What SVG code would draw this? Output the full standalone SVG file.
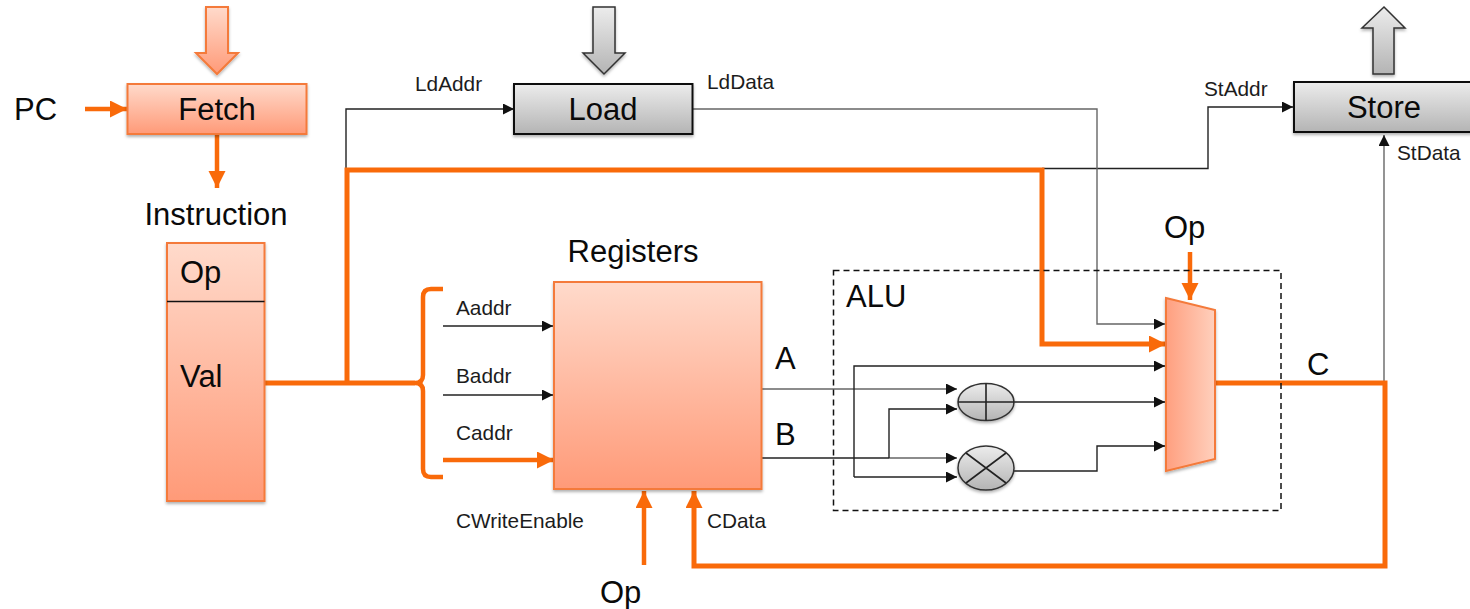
<svg xmlns="http://www.w3.org/2000/svg" width="1470" height="609" viewBox="0 0 1470 609">
<style>
text{font-family:"Liberation Sans",Arial,sans-serif;fill:#0a0a0a}
.l{font-size:31px}.s{font-size:20.8px;fill:#1c1c1c}
.m{text-anchor:middle}
.or{fill:url(#og);stroke:#f47a3a;stroke-width:2}
.gr{fill:url(#gg);stroke:#111;stroke-width:2}
.gs{fill:url(#gg);stroke:#333;stroke-width:1.5}
.thin{fill:none;stroke:#222;stroke-width:1.4}
.fine{fill:none;stroke:#666;stroke-width:1.4}
.thick{fill:none;stroke:#f96a0a;stroke-width:5}
.med{fill:none;stroke:#f96a0a;stroke-width:4.5}
.sym{stroke:#222;stroke-width:1.6;fill:none}
</style>
<defs>
<linearGradient id="og" x1="0" y1="0" x2="0" y2="1"><stop offset="0" stop-color="#ffdacb"/><stop offset="1" stop-color="#ff9a78"/></linearGradient>
<linearGradient id="mux" x1="0" y1="0" x2="1" y2="0"><stop offset="0" stop-color="#ff9f7f"/><stop offset="1" stop-color="#ffd0bd"/></linearGradient>
<linearGradient id="gg" x1="0" y1="0" x2="0" y2="1"><stop offset="0" stop-color="#ececec"/><stop offset="1" stop-color="#b4b4b4"/></linearGradient>
<filter id="sh" x="-10%" y="-10%" width="120%" height="125%"><feDropShadow dx="0" dy="2" stdDeviation="1.6" flood-color="#000" flood-opacity=".3"/></filter>
<marker id="a" markerUnits="userSpaceOnUse" markerWidth="12" markerHeight="12" refX="11" refY="5.5" orient="auto"><path d="M0 0L11 5.500L0 11z" fill="#111"/></marker>
<marker id="o" markerUnits="userSpaceOnUse" markerWidth="18" markerHeight="18" refX="17" refY="8.500" orient="auto"><path d="M0 0L17 8.500L0 17z" fill="#f96a0a"/></marker>
</defs>
<g id="connectors">
<path class="thin" d="M346 168V109H514" marker-end="url(#a)"/>
<path class="thin" d="M1042 168.500H1208V107H1293" marker-end="url(#a)"/>
<path class="fine" d="M692 109H1097V324H1165" marker-end="url(#a)"/>
<path class="fine" d="M1384 383V135" marker-end="url(#a)"/>
<path class="thin" d="M443 326H553" marker-end="url(#a)"/>
<path class="thin" d="M443 395H553" marker-end="url(#a)"/>
<path class="fine" d="M761 389H957" marker-end="url(#a)"/>
<path class="thin" d="M761 458H889"/>
<path class="fine" d="M889 458H957" marker-end="url(#a)"/>
<path class="thin" d="M889 458V409H957" marker-end="url(#a)"/>
<path class="thin" d="M854 477V366H1165" marker-end="url(#a)"/>
<path class="thin" d="M854 477H957" marker-end="url(#a)"/>
<path class="thin" d="M1014 402H1165" marker-end="url(#a)"/>
<path class="thin" d="M1014 471H1097V446H1165" marker-end="url(#a)"/>
<path class="med" d="M85 109H127" marker-end="url(#o)"/>
<path class="med" d="M217 134V188" marker-end="url(#o)"/>
<path class="thick" d="M264 383H415"/>
<path class="thick" d="M347 383V170H1042V344H1166" marker-end="url(#o)"/>
<path class="med" d="M443 289H431Q423 289 423 297V375Q423 383 415 383Q423 383 423 391V469Q423 477 431 477H443"/>
<path class="med" d="M443 460H554" marker-end="url(#o)"/>
<path class="med" d="M644 565V491" marker-end="url(#o)"/>
<path class="thick" d="M1215 383H1385V566H694V491" marker-end="url(#o)"/>
<path class="med" d="M1190 252V300" marker-end="url(#o)"/>
</g>
<g id="alu"><rect x="833.500" y="270.500" width="447.500" height="240" fill="none" stroke="#111" stroke-width="1.500" stroke-dasharray="6 4"/><text class="l" x="846" y="307">ALU</text></g>
<g id="fetch-in"><path class="or" filter="url(#sh)" d="M206 7H228V53H238L217 74L196 53H206z"/></g>
<g id="fetch"><rect class="or" filter="url(#sh)" x="127.500" y="84" width="179" height="50"/><text class="l m" x="217" y="120">Fetch</text></g>
<g id="pc"><text class="l" x="14" y="120">PC</text></g>
<g id="instruction-label"><text class="l m" x="216" y="225">Instruction</text></g>
<g id="instruction"><rect x="167" y="243" width="97.500" height="258" fill="url(#og)" stroke="#f47a3a" stroke-width="2" filter="url(#sh)"/><path d="M167 301.500H264.500" stroke="#111" stroke-width="1.500"/><text class="l" x="180" y="283">Op</text><text class="l" x="180" y="387">Val</text></g>
<g id="load-in"><path class="gs" filter="url(#sh)" d="M593 7H615V53H625L604 74L583 53H593z"/></g>
<g id="load"><rect class="gr" filter="url(#sh)" x="514" y="84" width="178.500" height="50"/><text class="l m" x="603" y="120">Load</text></g>
<g id="store-out"><path class="gs" filter="url(#sh)" d="M1384 7L1405 28H1394V74H1373V28H1362z"/></g>
<g id="store"><rect class="gr" filter="url(#sh)" x="1294" y="82" width="180" height="50"/><text class="l m" x="1384" y="118">Store</text></g>
<g id="registers"><rect class="or" filter="url(#sh)" x="554" y="282" width="207.500" height="207"/><text class="l m" x="633" y="262">Registers</text></g>
<g id="adder"><ellipse class="gs" filter="url(#sh)" cx="986" cy="402" rx="28" ry="18.500"/><path class="sym" d="M958 402H1014M986 383.500V420.500"/></g>
<g id="multiplier"><ellipse class="gs" filter="url(#sh)" cx="986" cy="468" rx="28" ry="22"/><path class="sym" d="M966 453L1006 483M1006 453L966 483"/></g>
<g id="mux-block"><path fill="url(#mux)" stroke="#f47a3a" stroke-width="2" filter="url(#sh)" d="M1166 298L1215 310V459L1166 471z"/></g>
<g id="labels">
<text class="s" x="415" y="91">LdAddr</text>
<text class="s" x="707" y="89">LdData</text>
<text class="s" x="1204" y="96">StAddr</text>
<text class="s" x="1397" y="160">StData</text>
<text class="s" x="456" y="315">Aaddr</text>
<text class="s" x="456" y="383">Baddr</text>
<text class="s" x="456" y="440">Caddr</text>
<text class="s" x="456" y="528">CWriteEnable</text>
<text class="s" x="707" y="528">CData</text>
<text class="l" x="600" y="603">Op</text>
<text class="l" x="1164" y="238">Op</text>
<text class="l" x="775" y="369">A</text>
<text class="l" x="775" y="445">B</text>
<text class="l" x="1307" y="375">C</text>
</g>
</svg>
